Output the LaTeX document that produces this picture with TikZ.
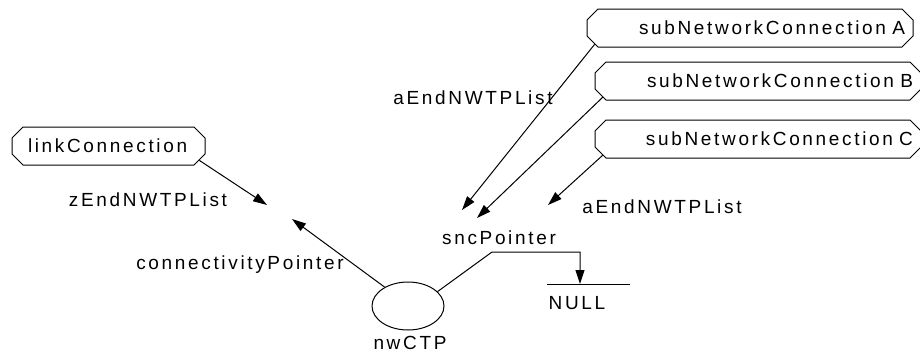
\documentclass[tikz,border=0pt]{standalone}
\usepackage{fontspec}
\setmainfont{Liberation Sans}[LetterSpace=14]
\usetikzlibrary{shapes.misc}
\usetikzlibrary{shapes.geometric}
\usetikzlibrary{arrows.meta}
\newcommand{\labelsize}{\fontsize{19pt}{22pt}\selectfont}
\tikzset{
    common/.style={font=\labelsize, inner sep=0pt},
    box/.style={common, draw, chamfered rectangle, chamfered rectangle sep=5.5pt, minimum height=38pt},
    sncbox/.style={box, text width=310pt, align=right, minimum width=326pt},
    linkbox/.style={box, text width=161pt, align=left, minimum width=193pt},
    ctp/.style={draw, ellipse, minimum width=72pt, minimum height=48pt, inner sep=0pt},
    ptr/.style={-{Triangle[length=14pt,width=9pt]}}
}

\begin{document}
\begin{tikzpicture}[x=1pt, y=-1pt, line width=1pt]
    \useasboundingbox (0,0) rectangle (920,356);
    \path
        node[linkbox] (link) at (108.5,146) {linkConnection}
        node[sncbox] (sncA) at (750,28) {subNetworkConnection A}
        node[sncbox] (sncB) at (758,81) {subNetworkConnection B}
        node[sncbox] (sncC) at (758,139) {subNetworkConnection C};
    \path
        (408,306) node[ctp] (ctp) {}
        ++(2,37) node[common] (ctpname) {nwCTP};

    \path
        node[common] (zEnd) at (148,200) {zEndNWTPList}
        node[common] (conn) at (240,265) {connectivityPointer}
        node[common] (aEndA) at (473,98) {aEndNWTPList}
        node[common] (aEndC) at (662,207) {aEndNWTPList}
        node[common] (snc) at (499,238) {sncPointer}
        node[common] (null) at (577,303) {NULL};

    \coordinate (zEndtip) at (267,205);
    \coordinate (conntip) at (292,219);
    \coordinate (sncAtip) at (462,210);
    \coordinate (sncBtip) at (477,218);
    \coordinate (sncCtip) at (548,205);
    \coordinate (bend) at (492,252);
    \coordinate (nulltip) at (580,284);
    \coordinate (nullL) at (547,284);
    \coordinate (nullR) at (630,284);

    \draw[ptr] (link.-9) -- (zEndtip);
    \draw[ptr] (ctp.141) -- (conntip);
    \draw[ptr] (sncA.186) -- (sncAtip);
    \draw[ptr] (sncB.186) -- (sncBtip);
    \draw[ptr] (sncC.186) -- (sncCtip);
    \draw[ptr] (ctp.26) -- (bend) -| (nulltip);
    \draw (nullL) -- (nullR);
\end{tikzpicture}
\end{document}
